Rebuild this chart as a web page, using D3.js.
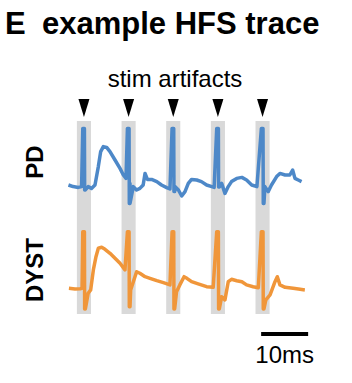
<!DOCTYPE html>
<html>
<head>
<meta charset="utf-8">
<script src="https://cdn.jsdelivr.net/npm/d3@7"></script>
<style>
  body { margin: 0; background: #fff; }
  text { font-family: "Liberation Sans", Arial, sans-serif; fill: #000; }
</style>
</head>
<body>
<div id="chart"></div>
<script>
// stimulus times (ms) and trace samples [time ms, amplitude a.u.]
const stimTimes = [0, 9.5, 19, 28.5, 38];
const pdSpikeTop = 29.3;
const pdSpikeBottom = [-1.5, -8.2, -2.3, 0, -8.2];
const dystSpikeTop = 28.3;
const dystSpikeBottom = [-10.3, -9.2, -10.3, -10.3, -10.3];

const pdTrace = [
  [-3.3, 1.0], [-2.3, 0.2], [-1.2, -0.2], [-0.5, 0.2],
  [0.9, 0.2], [1.6, -0.7], [2.35, 1.0], [3.06, 10.2], [3.56, 17.7], [4.12, 20.2],
  [4.83, 19.8], [5.54, 17.7], [6.61, 13.5], [7.67, 9.3], [8.38, 6.0], [8.95, 4.3],
  [9.8, 1.8], [10.5, 0.2], [11.2, -1.5], [11.9, -0.7], [12.6, 1.0], [13.0, 6.8],
  [13.5, 3.8], [14.4, 3.8], [15.5, 2.7], [16.5, 1.0], [17.6, -0.3], [18.3, -1.0],
  [19.4, 0.2], [20.1, -1.5], [20.8, -4.5], [21.5, -2.3], [22.2, 1.8], [22.9, 3.8],
  [24.0, 3.5], [25.0, 2.7], [26.1, 1.0], [27.2, 0.2], [27.7, -0.2],
  [29.3, 1.8], [30.0, -3.2], [30.7, 0.2], [31.4, 2.7], [32.5, 4.3], [33.6, 4.8],
  [34.6, 3.5], [35.7, 1.0], [36.8, 0.2],
  [38.5, 0.2], [39.2, -2.3], [39.9, 1.0], [41.0, 5.2], [41.7, 6.8], [42.8, 6.0],
  [43.8, 6.0], [44.4, 8.5], [44.9, 4.3], [45.6, 3.5], [46.3, 2.7]
];

const dystTrace = [
  [-3.2, 0], [-1.9, -0.3], [-0.8, -0.2], [-0.4, 0],
  [0.9, -2.5], [1.43, -0.8], [2.0, 9.2], [2.56, 15.8], [3.06, 20.0], [3.77, 20.5],
  [4.48, 19.5], [5.54, 17.5], [6.61, 15.0], [7.67, 12.5], [8.73, 9.2],
  [9.94, -0.8], [11.2, 8.3], [11.9, 7.5], [13.0, 5.8], [14.05, 5.0], [15.5, 3.8],
  [16.9, 2.8], [18.3, 1.7],
  [19.7, -1.7], [20.4, 1.7], [21.3, 5.8], [21.9, 5.0], [22.9, 3.3], [24.3, 2.2],
  [26.1, 0.8], [27.5, 0.5],
  [29.3, -4.2], [30.0, -5.8], [30.7, 3.3], [31.4, 4.5], [32.5, 3.8], [33.6, 3.3],
  [34.6, 1.7], [36.0, 0.8], [37.1, 0.3],
  [38.7, -5.8], [39.6, -3.3], [40.65, 3.3], [41.14, 5.8], [41.7, 1.7], [42.8, 0.5],
  [44.5, 0], [46.0, -0.5], [47.0, -0.8]
];

const scaleBarMs = 10;

const width = 352, height = 383;
const svg = d3.select("#chart").append("svg")
  .attr("width", width).attr("height", height);

const x = d3.scaleLinear().domain([-3.5, 47]).range([67.5, 304.85]);
const yPD = d3.scaleLinear().domain([-15, 35]).range([217, 117]);
const yDY = d3.scaleLinear().domain([-15, 35]).range([318.3, 218.3]);

// insert the saturated stim artifact into a trace
function withArtifacts(trace, top, bottoms) {
  const pts = trace.slice();
  stimTimes.forEach((s, i) => {
    pts.push([s - 0.25, top], [s + 0.1, top], [s + 0.15, bottoms[i]], [s + 0.3, bottoms[i]]);
  });
  return pts.sort((a, b) => a[0] - b[0]);
}

// grey bands behind the artifacts
svg.append("g").selectAll("rect")
  .data(stimTimes)
  .join("rect")
    .attr("x", d => x(d - 1.5))
    .attr("width", x(1.5) - x(-1.5))
    .attr("y", 121)
    .attr("height", 193)
    .attr("fill", "#d9d9d9");

// arrowheads
svg.append("g").selectAll("path")
  .data(stimTimes)
  .join("path")
    .attr("d", d => `M${x(d) - 5.5},99 L${x(d) + 5.5},99 L${x(d)},117 Z`)
    .attr("fill", "#000");

const line = yScale => d3.line().x(d => x(d[0])).y(d => yScale(d[1]));

svg.append("path")
  .datum(withArtifacts(pdTrace, pdSpikeTop, pdSpikeBottom))
  .attr("fill", "none")
  .attr("stroke", "#4d88c8")
  .attr("stroke-width", 3.5)
  .attr("stroke-linejoin", "round")
  .attr("d", line(yPD));

svg.append("path")
  .datum(withArtifacts(dystTrace, dystSpikeTop, dystSpikeBottom))
  .attr("fill", "none")
  .attr("stroke", "#f0963a")
  .attr("stroke-width", 3.5)
  .attr("stroke-linejoin", "round")
  .attr("d", line(yDY));

// titles
svg.append("text").attr("x", 5).attr("y", 34)
  .style("font-size", "31px").style("font-weight", "bold").text("E");
svg.append("text").attr("x", 42).attr("y", 34)
  .style("font-size", "31px").style("font-weight", "bold").text("example HFS trace");

svg.append("text").attr("x", 175).attr("y", 87)
  .attr("text-anchor", "middle").style("font-size", "24px").text("stim artifacts");

svg.append("text")
  .attr("transform", "translate(43,162) rotate(-90)")
  .attr("text-anchor", "middle")
  .style("font-size", "24px").style("font-weight", "bold").text("PD");
svg.append("text")
  .attr("transform", "translate(43,270) rotate(-90)")
  .attr("text-anchor", "middle")
  .style("font-size", "24px").style("font-weight", "bold").text("DYST");

// scale bar
const sb0 = 37.7;
svg.append("line")
  .attr("x1", x(sb0)).attr("x2", x(sb0 + scaleBarMs))
  .attr("y1", 334).attr("y2", 334)
  .attr("stroke", "#000").attr("stroke-width", 4);
svg.append("text")
  .attr("x", (x(sb0) + x(sb0 + scaleBarMs)) / 2).attr("y", 363)
  .attr("text-anchor", "middle").style("font-size", "24px").text(`${scaleBarMs}ms`);
</script>
</body>
</html>
